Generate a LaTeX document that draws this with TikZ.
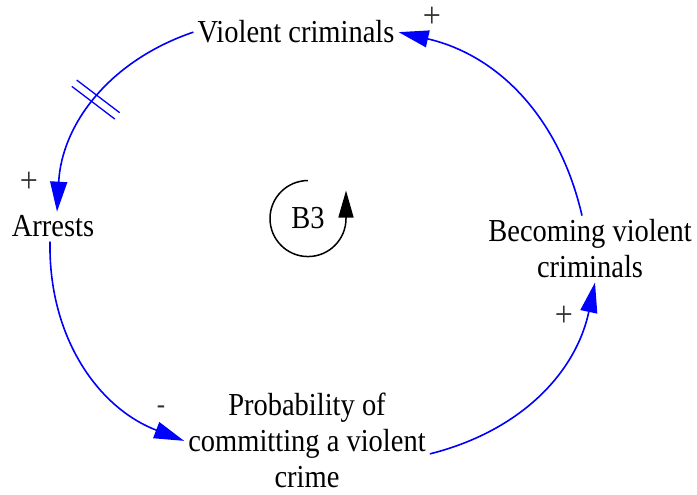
\documentclass[tikz,border=0pt]{standalone}
\usepackage{fontspec}
\setmainfont{Liberation Serif}[FakeStretch=0.89]
\usetikzlibrary{arrows.meta,decorations.markings}

\begin{document}
\begin{tikzpicture}[x=1pt, y=1pt, every node/.style={font=\fontsize{32}{36}\selectfont, inner sep=4pt}]
  \tikzset{
    link/.style={blue, line width=1.6pt, -{Triangle[length=30pt,width=17pt]}},
    polarity/.style={font=\fontsize{36}{36}\selectfont, text=black!80, inner sep=0pt},
    delaymark/.style={postaction={decorate, decoration={markings,
      mark=at position 0.5 with {\draw[blue, line width=1.3pt, -] (-4,-27) -- (-4,27) (4,-27) -- (4,27);}}}},
    loopline/.style={black, line width=1.5pt, -{Triangle[length=27pt,width=15pt]}}
  }
  \useasboundingbox (0,0) rectangle (697,495);
  % variables
  \node[anchor=base] (violent) at (296,452) {Violent criminals};
  \node[anchor=base] (arrests) at (53,258) {Arrests};
  \node[anchor=base, align=center] (becoming) at (590,217) {Becoming violent\\criminals};
  \node[anchor=base, align=center] (prob) at (307,7) {Probability of\\committing a violent\\crime};
  % loop marker
  \node[anchor=base] (b3) at (308,266) {B3};
  \draw[loopline] ([yshift=38pt]b3.center) arc[start angle=90, end angle=360, radius=38] -- ++(0,28);
  % links
  \draw[link, delaymark] (violent.west) to[bend right=34] ([xshift=4pt]arrests.north);
  \draw[link] ([xshift=-3pt]arrests.south) to[bend right=35] (prob.west);
  \draw[link] ([yshift=-13pt]prob.east) to[bend right=32] ([xshift=5pt]becoming.south);
  \draw[link] ([xshift=-8pt]becoming.north) to[bend right=32] (violent.east);
  % polarities
  \node[polarity] (p1) at (432,478) {+};
  \node[polarity] (p2) at (29,313) {+};
  \node[polarity, font=\fontsize{28}{30}\selectfont] (p3) at (161,85) {-};
  \node[polarity] (p4) at (564,179) {+};
\end{tikzpicture}
\end{document}
